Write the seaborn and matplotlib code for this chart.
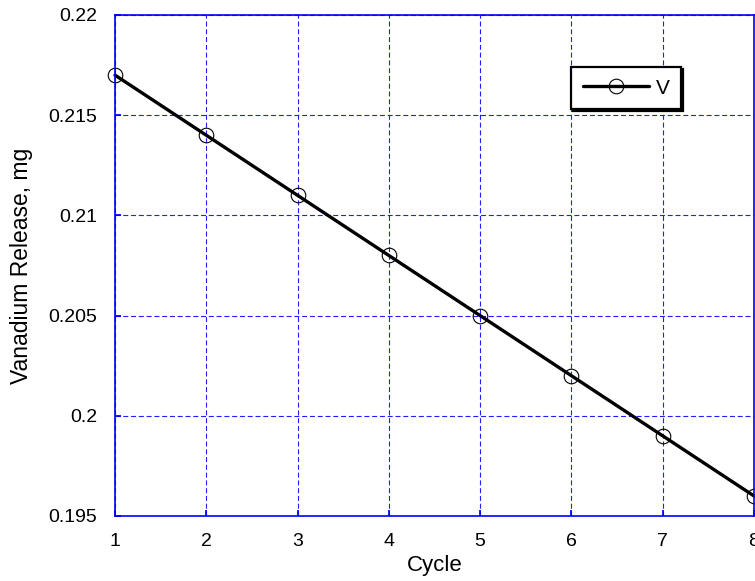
import matplotlib
matplotlib.use("Agg")
import matplotlib.pyplot as plt
import seaborn as sns
import pandas as pd

cycles = [1, 2, 3, 4, 5, 6, 7, 8]
vanadium = [0.217, 0.214, 0.211, 0.208, 0.205, 0.202, 0.199, 0.196]
x_ticks = [1, 2, 3, 4, 5, 6, 7, 8]
y_ticks = [0.195, 0.2, 0.205, 0.21, 0.215, 0.22]
y_labels = ["0.195", "0.2", "0.205", "0.21", "0.215", "0.22"]

sns.set_theme(style="white")
plt.rcParams['font.family'] = ['Liberation Sans', 'DejaVu Sans']
plt.rcParams['text.color'] = 'black'
plt.rcParams['axes.labelcolor'] = 'black'

df = pd.DataFrame({"Cycle": cycles, "V": vanadium})

fig = plt.figure(figsize=(7.55, 5.81), dpi=100)
ax = fig.add_axes([115/755, 1-516/581, 639/755, 501/581])

sns.lineplot(data=df, x="Cycle", y="V", ax=ax, color="black", linewidth=2.4,
             marker="o", markersize=10.5, markerfacecolor="none",
             markeredgecolor="black", markeredgewidth=0.8, label="V", clip_on=False)

ax.set_xlim(1, 8)
ax.set_ylim(0.195, 0.22)
ax.set_xticks(x_ticks)
ax.set_yticks(y_ticks)
ax.set_yticklabels(y_labels)
ax.grid(True, color="#2020ff", linestyle=(0, (4.5, 2.5)), linewidth=0.8)
for s in ax.spines.values():
    s.set_color("blue")
    s.set_linewidth(1.2)
ax.tick_params(axis="both", direction="in", length=4, color="blue",
               labelsize=14, labelcolor="black", bottom=True, left=True)
ax.tick_params(axis="x", pad=12)
ax.tick_params(axis="y", pad=13)
ax.set_xlabel("Cycle", fontsize=16, labelpad=4, color="black")
ax.set_ylabel("Vanadium Release, mg", fontsize=16.5, labelpad=11, color="black")

leg = ax.legend(loc="upper left", bbox_to_anchor=(0.714, 0.896), fontsize=15,
                frameon=True, fancybox=False,
                shadow={"color": "black", "alpha": 1, "ox": 1.5, "oy": -1.5},
                handlelength=3.2, borderpad=0.55, handletextpad=0.3,
                borderaxespad=0)
leg.get_frame().set_edgecolor("black")
leg.get_frame().set_linewidth(1.6)
leg.get_frame().set_alpha(1)
for t in leg.get_texts():
    t.set_color("black")

fig.savefig("out.png", dpi=100)
